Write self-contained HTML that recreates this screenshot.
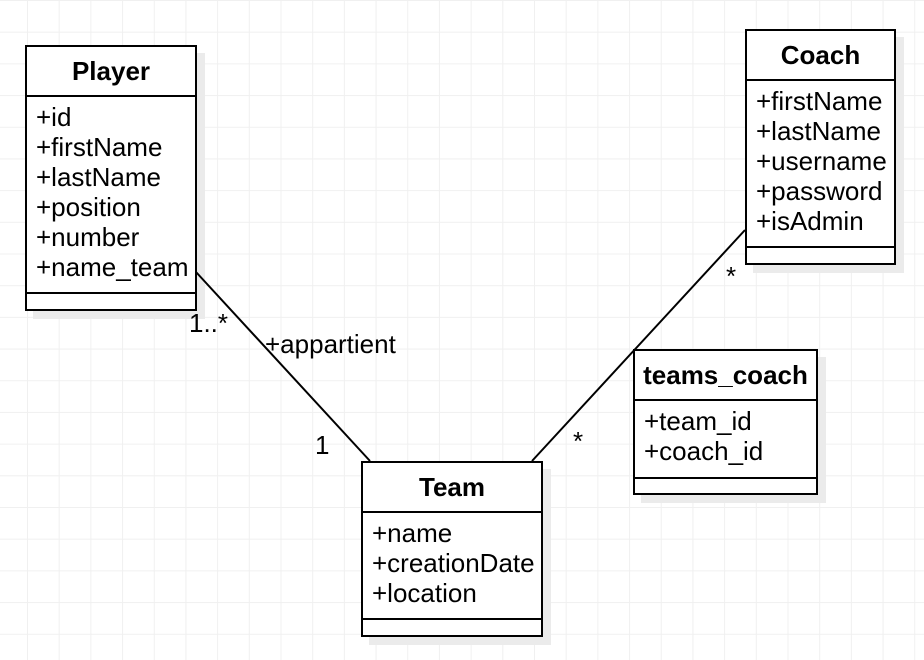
<!DOCTYPE html>
<html><head><style>
body{margin:0;width:924px;height:660px;overflow:hidden;background:#fff;font-family:"Liberation Sans",sans-serif;
background-image:linear-gradient(#f0f0f0 1px,transparent 1px),linear-gradient(90deg,#f0f0f0 1px,transparent 1px);
background-size:31.7px 31.7px;background-position:27px 0px;position:relative}
.b{position:absolute;border:2px solid #000;background:#fff;box-shadow:8px 8px 0 #ebebeb;box-sizing:border-box}
.h{height:50px;border-bottom:2px solid #000;box-sizing:border-box;font-weight:bold;font-size:26px;text-align:center;line-height:49px}
.a{padding:5px 0 0 9px;font-size:26px;line-height:30px;border-bottom:2px solid #000;box-sizing:border-box;white-space:nowrap}
.t{position:absolute;font-size:26px}
</style></head><body>
<div class="b" style="left:25px;top:45px;width:172px;height:266px"><div class="h">Player</div><div class="a" style="height:197px">+id<br>+firstName<br>+lastName<br>+position<br>+number<br>+name_team</div></div>
<div class="b" style="left:745px;top:29px;width:151px;height:236px"><div class="h">Coach</div><div class="a" style="height:167px">+firstName<br>+lastName<br>+username<br>+password<br>+isAdmin</div></div>
<div class="b" style="left:633px;top:349px;width:185px;height:146px"><div class="h">teams_coach</div><div class="a" style="height:78px">+team_id<br>+coach_id</div></div>
<div class="b" style="left:361px;top:461px;width:182px;height:176px"><div class="h">Team</div><div class="a" style="height:107px">+name<br>+creationDate<br>+location</div></div>
<svg width="924" height="660" style="position:absolute;left:0;top:0">
<line x1="196" y1="272" x2="370" y2="461" stroke="#000" stroke-width="2"/>
<line x1="745" y1="230" x2="532" y2="461" stroke="#000" stroke-width="2"/>
</svg>
<div class="t" style="left:189px;top:308px">1..*</div>
<div class="t" style="left:265px;top:329px">+appartient</div>
<div class="t" style="left:315px;top:430px">1</div>
<div class="t" style="left:726px;top:261px">*</div>
<div class="t" style="left:573px;top:426px">*</div>
</body></html>
